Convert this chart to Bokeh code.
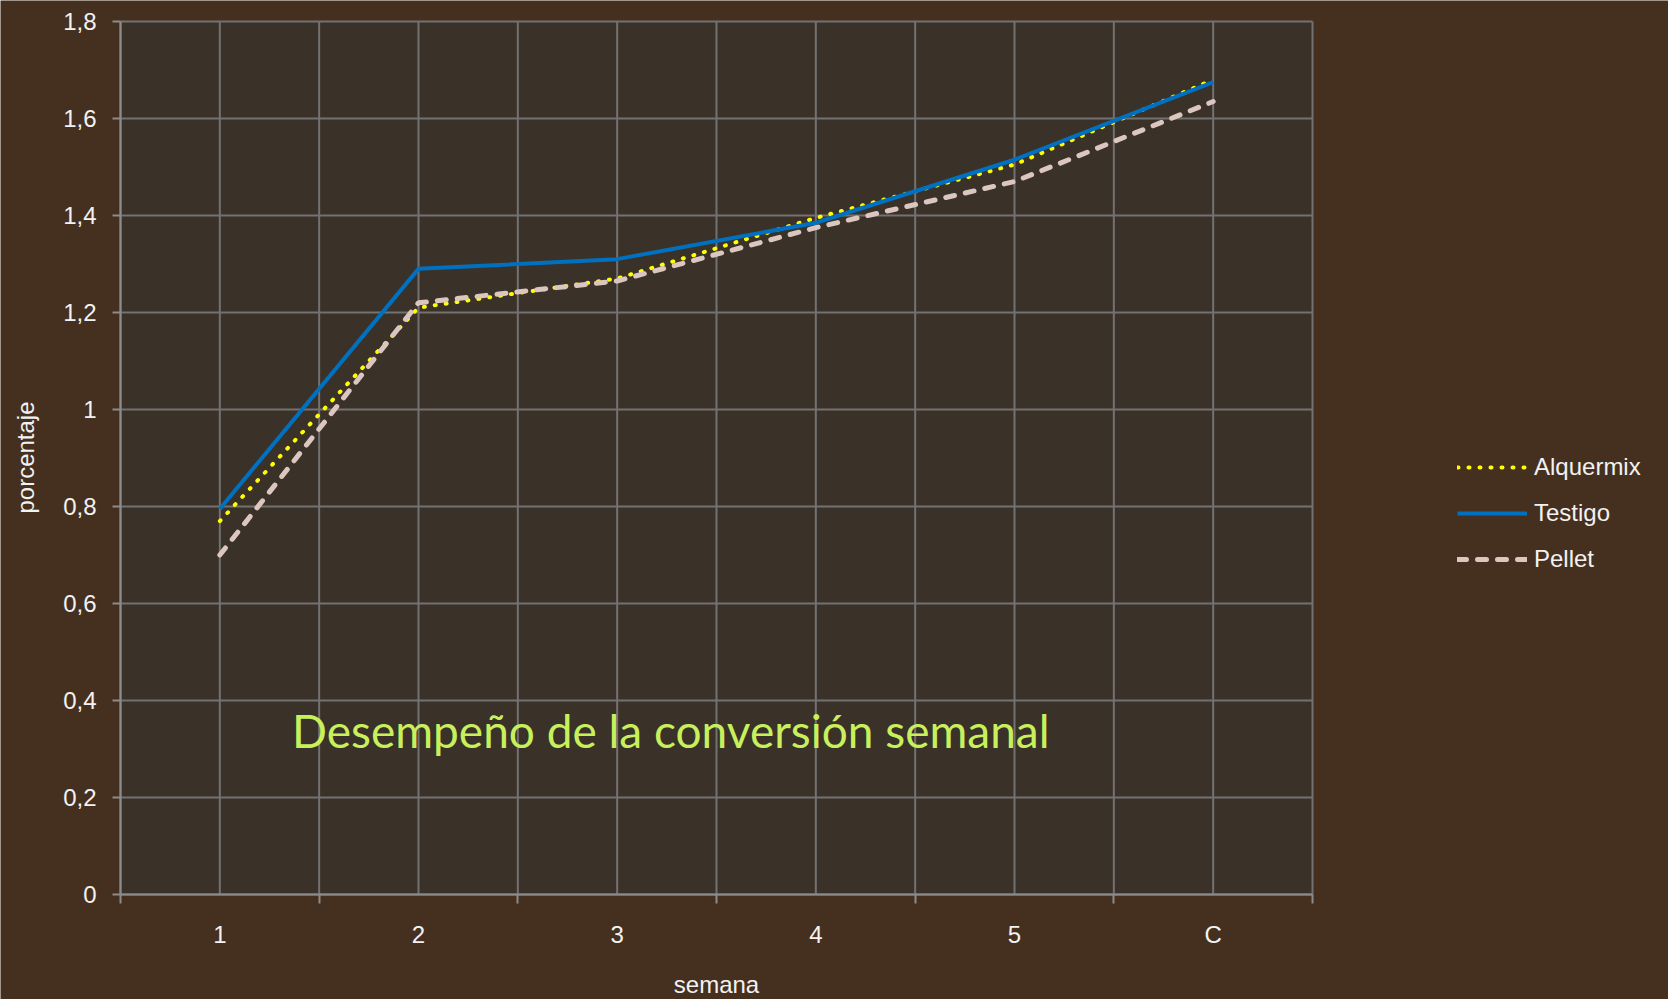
import math
from bokeh.plotting import figure
from bokeh.models import FixedTicker, Legend, LegendItem, Label, Range1d
from bokeh.embed import file_html
from bokeh.resources import INLINE

# ---- data ----
semanas = ["1", "2", "3", "4", "5", "C"]
alquermix = [0.77, 1.21, 1.27, 1.395, 1.505, 1.68]
testigo = [0.795, 1.29, 1.31, 1.385, 1.515, 1.675]
pellet = [0.70, 1.22, 1.265, 1.375, 1.47, 1.635]
y_ticks = [0, 0.2, 0.4, 0.6, 0.8, 1.0, 1.2, 1.4, 1.6, 1.8]
y_tick_labels = ["0", "0,2", "0,4", "0,6", "0,8", "1", "1,2", "1,4", "1,6", "1,8"]
titulo = "Desempeño de la conversión semanal"
x_titulo = "semana"
y_titulo = "porcentaje"

xs = list(range(1, len(semanas) + 1))
x_lo, x_hi = 0.5, len(semanas) + 0.5
y_lo, y_hi = y_ticks[0], y_ticks[-1]

FONT = "Liberation Sans"
BG = "#45301f"
PLOT_BG = "#3a3128"
GRID = "#727272"
AXIS = "#8c8c8c"
TXT = "#f2f2f2"

# layout (pixels): the frame covers the whole canvas, the plotting area sits inside it
W, H = 1668, 999
LEFT, TOP = 120, 21
PLOT_W, PLOT_H = 1192, 873
px_per_x = PLOT_W / (x_hi - x_lo)
px_per_y = PLOT_H / (y_hi - y_lo)
x_start = x_lo - LEFT / px_per_x
x_end = x_lo + (W - LEFT) / px_per_x
y_end = y_hi + TOP / px_per_y
y_start = y_lo - (H - TOP - PLOT_H) / px_per_y


def px_x(px):
    return x_start + px / px_per_x


def px_y(py):
    return y_end - py / px_per_y


p = figure(width=W, height=H, output_backend="svg", toolbar_location=None,
           x_range=Range1d(x_start, x_end), y_range=Range1d(y_start, y_end),
           min_border=0, min_border_left=0, min_border_right=0, min_border_top=0, min_border_bottom=0)
p.background_fill_color = BG
p.border_fill_color = BG
p.outline_line_color = None
p.xgrid.visible = False
p.ygrid.visible = False

# plot area background
p.quad(left=[x_lo], right=[x_hi], bottom=[y_lo], top=[y_hi], fill_color=PLOT_BG, line_color=None)

# grid lines
grid_x = [x_lo + 0.5 * i for i in range(2 * len(semanas) + 1)]
p.segment(x0=grid_x, y0=[y_lo] * len(grid_x), x1=grid_x, y1=[y_hi] * len(grid_x),
          line_color=GRID, line_width=2)
p.segment(x0=[x_lo] * len(y_ticks), y0=y_ticks, x1=[x_hi] * len(y_ticks), y1=y_ticks,
          line_color=GRID, line_width=2)

# x axis (drawn at y = 0 inside the frame)
p.xaxis.fixed_location = y_lo
p.xaxis.bounds = (x_lo, x_hi)
p.xaxis.ticker = FixedTicker(ticks=xs, minor_ticks=[x - 0.5 for x in xs] + [xs[-1] + 0.5])
p.xaxis.major_label_overrides = {x: s for x, s in zip(xs, semanas)}
p.xaxis.major_tick_line_color = None
p.xaxis.major_tick_out = 0
p.xaxis.major_tick_in = 0
p.xaxis.minor_tick_line_color = AXIS
p.xaxis.minor_tick_line_width = 2
p.xaxis.minor_tick_out = 9
p.xaxis.minor_tick_in = 0
p.xaxis.axis_line_color = AXIS
p.xaxis.axis_line_width = 2
p.xaxis.major_label_standoff = 17

# y axis (drawn at x = 0.5 inside the frame)
p.yaxis.fixed_location = x_lo
p.yaxis.bounds = (y_lo, y_hi)
p.yaxis.ticker = FixedTicker(ticks=y_ticks)
p.yaxis.major_label_overrides = {t: s for t, s in zip(y_ticks, y_tick_labels)}
p.yaxis.major_tick_line_color = AXIS
p.yaxis.major_tick_line_width = 2
p.yaxis.major_tick_out = 8
p.yaxis.major_tick_in = 0
p.yaxis.minor_tick_line_color = None
p.yaxis.axis_line_color = AXIS
p.yaxis.axis_line_width = 2
p.yaxis.major_label_standoff = 16

for ax in (p.xaxis, p.yaxis):
    ax.major_label_text_font = FONT
    ax.major_label_text_font_size = "24px"
    ax.major_label_text_color = TXT

# axis titles
p.add_layout(Label(x=(x_lo + x_hi) / 2, y=px_y(984), text=x_titulo, text_align="center",
                   text_baseline="middle", text_font=FONT, text_font_size="24px", text_color=TXT))
p.add_layout(Label(x=px_x(25), y=px_y(457), text=y_titulo, angle=math.pi / 2, text_align="center",
                   text_baseline="middle", text_font=FONT, text_font_size="24px", text_color=TXT))

# series
r1 = p.line(xs, alquermix, line_color="#ffff00", line_width=4, line_dash="1 10", line_cap="round")
r2 = p.line(xs, testigo, line_color="#0070c0", line_width=4)
r3 = p.line(xs, pellet, line_color="#dcc6c0", line_width=5, line_dash="9 11", line_cap="round")

legend = Legend(items=[LegendItem(label="Alquermix", renderers=[r1]),
                       LegendItem(label="Testigo", renderers=[r2]),
                       LegendItem(label="Pellet", renderers=[r3])],
                location=(LEFT + PLOT_W + 145, H - (TOP + PLOT_H) + 321), orientation="vertical")
legend.background_fill_alpha = 0
legend.border_line_color = None
legend.padding = 0
legend.margin = 0
legend.spacing = 18
legend.glyph_width = 70
legend.glyph_height = 24
legend.label_height = 24
legend.label_standoff = 7
legend.label_text_font = FONT
legend.label_text_font_size = "24px"
legend.label_text_color = TXT
legend.click_policy = "none"
p.add_layout(legend, "center")

p.add_layout(Label(x=3.27, y=0.338, text=titulo, text_align="center", text_baseline="middle",
                   text_font="Lato", text_font_size="46px", text_color="#c8f05c"))

open("out.html", "w").write(file_html(p, INLINE))
